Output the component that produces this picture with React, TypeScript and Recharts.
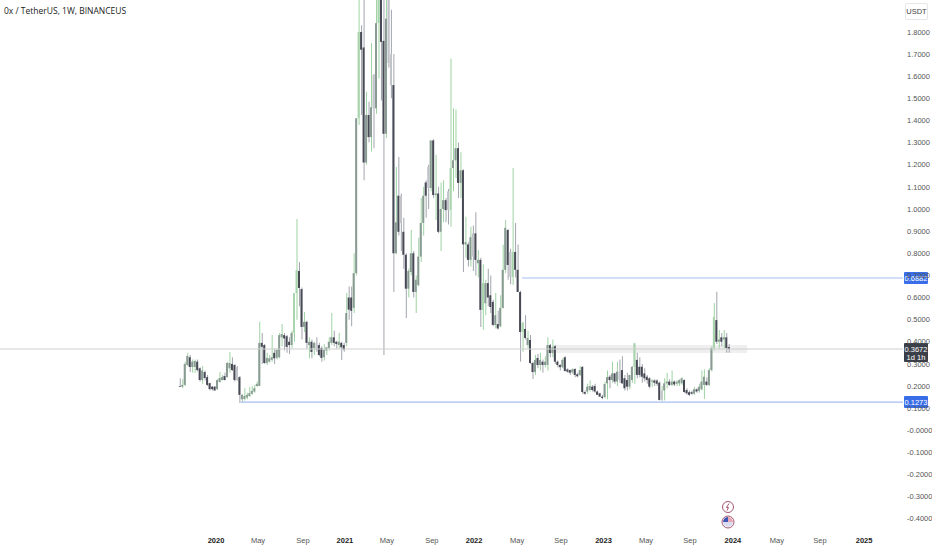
import React from "react";
import {
  Bar,
  BarChart,
  Cell,
  ReferenceArea,
  ReferenceLine,
  XAxis,
  YAxis,
} from "recharts";

// weekly candles, oldest first
const opens = [
  0.2, 0.197, 0.205, 0.295, 0.33, 0.286, 0.286, 0.31, 0.28, 0.227,
  0.263, 0.24, 0.213, 0.197, 0.197, 0.186, 0.218, 0.227, 0.245, 0.24,
  0.28, 0.3, 0.295, 0.286, 0.24, 0.14, 0.141, 0.148, 0.155, 0.165,
  0.175, 0.2, 0.2, 0.395, 0.385, 0.304, 0.31, 0.318, 0.35, 0.327,
  0.33, 0.42, 0.43, 0.425, 0.4, 0.385, 0.44, 0.62, 0.72, 0.638,
  0.467, 0.49, 0.385, 0.4, 0.372, 0.395, 0.385, 0.372, 0.33, 0.36,
  0.372, 0.395, 0.42, 0.4, 0.385, 0.395, 0.385, 0.395, 0.6, 0.6,
  0.553, 0.71, 1.41, 1.8, 1.73, 1.21, 1.425, 1.325, 1.605, 1.455,
  1.84, 1.96, 1.76, 1.34, 1.98, 1.7, 1.56, 0.8, 1.06, 1.06,
  0.897, 0.793, 0.64, 0.715, 0.8, 0.625, 0.656, 0.785, 0.937, 1.12,
  1.19, 1.095, 1.31, 1.063, 1.07, 0.897, 1.0, 1.04, 1.08, 0.995,
  1.185, 1.22, 1.275, 1.118, 1.175, 0.84, 0.84, 0.77, 0.89, 0.89,
  0.755, 0.77, 0.544, 0.574, 0.665, 0.61, 0.58, 0.476, 0.48, 0.47,
  0.553, 0.725, 0.905, 0.806, 0.693, 0.806, 0.725, 0.625, 0.444, 0.458,
  0.385, 0.408, 0.304, 0.263, 0.327, 0.295, 0.31, 0.295, 0.295, 0.385,
  0.349, 0.38, 0.31, 0.295, 0.285, 0.33, 0.275, 0.272, 0.262, 0.277,
  0.253, 0.25, 0.286, 0.173, 0.175, 0.182, 0.197, 0.2, 0.175, 0.167,
  0.152, 0.15, 0.212, 0.242, 0.227, 0.257, 0.22, 0.265, 0.272, 0.235,
  0.227, 0.197, 0.227, 0.287, 0.318, 0.287, 0.287, 0.257, 0.242, 0.235,
  0.22, 0.225, 0.225, 0.215, 0.137, 0.18, 0.212, 0.22, 0.205, 0.22,
  0.21, 0.212, 0.212, 0.227, 0.182, 0.172, 0.172, 0.165, 0.185, 0.178,
  0.185, 0.205, 0.22, 0.205, 0.272, 0.372, 0.498, 0.4, 0.42, 0.41,
  0.42, 0.376,
];
const highs = [
  0.235, 0.23, 0.31, 0.35, 0.34, 0.32, 0.32, 0.32, 0.285, 0.29,
  0.27, 0.25, 0.215, 0.2, 0.2, 0.23, 0.263, 0.25, 0.26, 0.31,
  0.354, 0.33, 0.3, 0.29, 0.245, 0.165, 0.19, 0.17, 0.195, 0.2,
  0.205, 0.22, 0.49, 0.44, 0.39, 0.35, 0.34, 0.43, 0.37, 0.37,
  0.44, 0.48, 0.44, 0.43, 0.42, 0.45, 0.62, 0.955, 0.76, 0.645,
  0.535, 0.495, 0.42, 0.41, 0.4, 0.42, 0.395, 0.38, 0.39, 0.375,
  0.42, 0.53, 0.45, 0.405, 0.44, 0.4, 0.395, 0.62, 0.65, 0.65,
  0.8, 1.41, 2.2, 1.83, 2.1, 1.53, 1.485, 1.75, 1.61, 2.0,
  2.1, 2.1, 2.1, 2.1, 2.1, 1.9, 1.7, 1.19, 1.235, 1.07,
  0.96, 0.8, 0.73, 0.905, 0.81, 0.7, 0.87, 1.05, 1.1, 1.13,
  1.2, 1.31, 1.315, 1.245, 1.1, 1.12, 1.13, 1.05, 1.09, 1.68,
  1.455, 1.45, 1.3, 1.257, 1.18, 0.965, 0.85, 0.92, 0.925, 0.985,
  0.815, 0.78, 0.75, 0.68, 0.73, 0.7, 0.59, 0.62, 0.54, 0.61,
  0.838, 0.95, 0.91, 0.82, 1.185, 0.937, 0.84, 0.63, 0.49, 0.52,
  0.45, 0.43, 0.31, 0.34, 0.345, 0.35, 0.32, 0.335, 0.42, 0.39,
  0.41, 0.385, 0.315, 0.3, 0.325, 0.335, 0.28, 0.275, 0.28, 0.28,
  0.26, 0.29, 0.29, 0.18, 0.21, 0.225, 0.205, 0.21, 0.18, 0.17,
  0.16, 0.22, 0.27, 0.25, 0.31, 0.26, 0.31, 0.32, 0.335, 0.25,
  0.26, 0.25, 0.29, 0.393, 0.35, 0.33, 0.3, 0.28, 0.25, 0.24,
  0.23, 0.23, 0.23, 0.22, 0.2, 0.235, 0.26, 0.23, 0.27, 0.225,
  0.225, 0.23, 0.24, 0.23, 0.19, 0.18, 0.18, 0.195, 0.19, 0.21,
  0.27, 0.275, 0.24, 0.28, 0.38, 0.575, 0.626, 0.453, 0.44, 0.453,
  0.44, 0.39,
];
const lows = [
  0.195, 0.19, 0.2, 0.29, 0.263, 0.26, 0.26, 0.265, 0.22, 0.21,
  0.225, 0.2, 0.18, 0.18, 0.178, 0.182, 0.215, 0.225, 0.225, 0.238,
  0.26, 0.268, 0.22, 0.225, 0.123, 0.125, 0.135, 0.14, 0.15, 0.16,
  0.17, 0.195, 0.2, 0.3, 0.3, 0.295, 0.305, 0.31, 0.3, 0.32,
  0.325, 0.38, 0.36, 0.35, 0.345, 0.37, 0.4, 0.5, 0.56, 0.41,
  0.444, 0.37, 0.325, 0.325, 0.34, 0.355, 0.335, 0.31, 0.315, 0.34,
  0.36, 0.385, 0.38, 0.37, 0.37, 0.318, 0.355, 0.38, 0.5, 0.47,
  0.53, 0.7, 1.38, 1.425, 1.13, 1.2, 1.3, 1.26, 1.275, 1.43,
  1.59, 1.49, 0.34, 1.32, 1.64, 1.5, 0.625, 0.795, 0.88, 0.81,
  0.73, 0.507, 0.6, 0.7, 0.6, 0.53, 0.65, 0.76, 0.88, 0.96,
  1.0, 1.08, 1.05, 0.95, 0.89, 0.81, 0.94, 0.94, 0.93, 0.92,
  1.08, 1.14, 1.05, 1.05, 0.715, 0.78, 0.74, 0.74, 0.72, 0.7,
  0.69, 0.467, 0.454, 0.52, 0.56, 0.53, 0.47, 0.46, 0.455, 0.465,
  0.55, 0.71, 0.68, 0.66, 0.657, 0.69, 0.625, 0.31, 0.355, 0.41,
  0.37, 0.3, 0.232, 0.25, 0.28, 0.27, 0.26, 0.285, 0.27, 0.33,
  0.33, 0.3, 0.285, 0.27, 0.28, 0.265, 0.26, 0.25, 0.255, 0.24,
  0.24, 0.245, 0.165, 0.16, 0.165, 0.175, 0.175, 0.17, 0.16, 0.15,
  0.14, 0.145, 0.14, 0.19, 0.215, 0.21, 0.2, 0.215, 0.21, 0.18,
  0.18, 0.185, 0.215, 0.21, 0.235, 0.24, 0.215, 0.22, 0.21, 0.19,
  0.195, 0.2, 0.2, 0.135, 0.13, 0.135, 0.19, 0.2, 0.2, 0.2,
  0.2, 0.2, 0.205, 0.17, 0.16, 0.155, 0.16, 0.16, 0.17, 0.17,
  0.18, 0.141, 0.2, 0.2, 0.265, 0.36, 0.39, 0.37, 0.38, 0.37,
  0.35, 0.35,
];
const closes = [
  0.197, 0.205, 0.3, 0.336, 0.286, 0.31, 0.313, 0.272, 0.227, 0.27,
  0.236, 0.205, 0.186, 0.186, 0.18, 0.227, 0.236, 0.24, 0.227, 0.304,
  0.304, 0.272, 0.227, 0.227, 0.16, 0.16, 0.155, 0.16, 0.168, 0.178,
  0.19, 0.21, 0.395, 0.377, 0.304, 0.327, 0.325, 0.33, 0.325, 0.363,
  0.43, 0.435, 0.415, 0.377, 0.385, 0.44, 0.62, 0.724, 0.643, 0.467,
  0.49, 0.395, 0.4, 0.354, 0.395, 0.363, 0.34, 0.327, 0.363, 0.375,
  0.4, 0.42, 0.395, 0.39, 0.4, 0.375, 0.365, 0.53, 0.545, 0.54,
  0.71, 1.41, 1.8, 1.72, 1.21, 1.425, 1.325, 1.46, 1.455, 1.84,
  1.96, 1.755, 1.34, 1.86, 1.66, 1.56, 0.8, 0.94, 0.897, 0.937,
  0.793, 0.64, 0.72, 0.8, 0.625, 0.68, 0.785, 0.937, 1.06, 1.06,
  1.095, 1.31, 1.063, 1.07, 0.897, 1.0, 1.04, 0.995, 0.995, 1.185,
  1.22, 1.275, 1.118, 1.175, 0.84, 0.85, 0.77, 0.873, 0.785, 0.77,
  0.77, 0.544, 0.665, 0.665, 0.6, 0.557, 0.476, 0.52, 0.46, 0.553,
  0.725, 0.915, 0.747, 0.693, 0.806, 0.725, 0.625, 0.444, 0.485, 0.417,
  0.417, 0.304, 0.263, 0.318, 0.295, 0.318, 0.295, 0.31, 0.385, 0.349,
  0.375, 0.31, 0.295, 0.285, 0.318, 0.268, 0.265, 0.26, 0.275, 0.25,
  0.244, 0.272, 0.173, 0.165, 0.197, 0.2, 0.182, 0.175, 0.16, 0.152,
  0.146, 0.209, 0.24, 0.227, 0.257, 0.22, 0.265, 0.227, 0.212, 0.19,
  0.197, 0.25, 0.287, 0.393, 0.25, 0.25, 0.242, 0.235, 0.227, 0.197,
  0.225, 0.215, 0.21, 0.137, 0.18, 0.212, 0.22, 0.205, 0.22, 0.207,
  0.22, 0.227, 0.235, 0.173, 0.167, 0.16, 0.165, 0.185, 0.175, 0.197,
  0.22, 0.242, 0.205, 0.272, 0.372, 0.512, 0.4, 0.41, 0.4, 0.42,
  0.372, 0.3672,
];

const priceTicks = [
  1.8, 1.7, 1.6, 1.5, 1.4, 1.3, 1.2, 1.1, 1.0, 0.9, 0.8, 0.7, 0.6, 0.5, 0.4,
  0.3, 0.2, 0.1, 0, -0.1, -0.2, -0.3, -0.4,
];
// candle index each date label sits at
const dateTicks = [14.5, 31.4, 49.5, 66.4, 83.3, 101.4, 118.4, 135.7, 153.4, 170.5, 187.6, 205.3, 222.6, 240.3, 257.6, 275.4];
const dateLabels = ["2020", "May", "Sep", "2021", "May", "Sep", "2022", "May", "Sep", "2023", "May", "Sep", "2024", "May", "Sep", "2025"];

const lastPrice = 0.3672;
const resistance = 0.6882;
const support = 0.1273;

// candles that look washed out in the screenshot
const paleGreenWeeks = [46, 47, 72, 80, 109, 122, 134, 138, 183, 215];
const paleGreyWeeks = [23, 55, 78, 84, 85, 89, 100, 108, 118, 133, 177, 194];

const data = opens.map((open, i) => ({
  week: i,
  wick: [lows[i], highs[i]],
  body: [Math.min(open, closes[i]), Math.max(open, closes[i])],
  up: closes[i] >= open,
}));

const bodyColor = (week: number, up: boolean) => {
  if (paleGreenWeeks.includes(week)) return "#a9d4ad";
  if (paleGreyWeeks.includes(week)) return "#c3c5cb";
  return up ? "#8a9b94" : "#474a55";
};

const xDomain: [number, number] = [-72.46, 291.06];
const yDomain: [number, number] = [-0.4508, 1.9446];

const DateTick = ({ x, y, payload }: any) => {
  const label = dateLabels[dateTicks.indexOf(payload.value)];
  const isYear = /^\d+$/.test(label);
  return (
    <text
      x={x}
      y={y + 5}
      textAnchor="middle"
      fontSize={7.5}
      fontFamily="'Liberation Sans Narrow', 'Liberation Sans', sans-serif"
      fontWeight={isYear ? 700 : 400}
      fill={isYear ? "#222" : "#555"}
    >
      {label}
    </text>
  );
};

const PriceTag = ({ viewBox, text, sub, color }: any) => {
  const tagX = viewBox.x + viewBox.width + 1;
  const tagY = viewBox.y;
  const h = sub ? 19 : 12;
  return (
    <g fontFamily="'Liberation Sans Narrow', 'Liberation Sans', sans-serif" fontSize={7.5} fill="#fff">
      <rect x={tagX} y={tagY - 6} width={24} height={h} fill={color} rx={1} />
      <text x={tagX + 12} y={tagY + 3} textAnchor="middle">{text}</text>
      {sub && <text x={tagX + 12} y={tagY + 11} textAnchor="middle">{sub}</text>}
    </g>
  );
};

export default function App() {
  return (
    <div style={{ position: "absolute", left: 0, top: 0, width: 932, height: 550, background: "#fff" }}>
      <BarChart
        width={932}
        height={550}
        data={data}
        margin={{ top: 0, right: 0, bottom: 0, left: 0 }}
        barGap={0}
      >
        <XAxis
          xAxisId="wicks"
          dataKey="week"
          type="number"
          domain={xDomain}
          allowDataOverflow
          ticks={dateTicks}
          interval={0}
          tick={<DateTick />}
          tickLine={false}
          axisLine={false}
          height={20}
        />
        <XAxis xAxisId="bodies" dataKey="week" type="number" domain={xDomain} allowDataOverflow hide height={0} />
        <YAxis
          orientation="right"
          domain={yDomain}
          allowDataOverflow
          ticks={priceTicks}
          interval={0}
          width={29}
          tickLine={false}
          axisLine={false}
          tickSize={0}
          tickMargin={4}
          tickFormatter={(v: number) => (v === 0 ? "-0.0000" : v.toFixed(4))}
          tick={{
            fontSize: 7.5,
            fill: "#555",
            fontFamily: "'Liberation Sans Narrow', 'Liberation Sans', sans-serif",
            textAnchor: "start",
          }}
        />
        <ReferenceArea
          xAxisId="wicks"
          x1={150.2}
          x2={228.3}
          y1={0.349}
          y2={0.385}
          fill="#e4e4e4"
          fillOpacity={0.6}
          stroke="none"
        />
        <ReferenceLine
          xAxisId="wicks"
          segment={[{ x: 137.7, y: resistance }, { x: xDomain[1], y: resistance }]}
          stroke="#a5bdf3"
        />
        <ReferenceLine
          xAxisId="wicks"
          segment={[{ x: 24.5, y: support }, { x: xDomain[1], y: support }]}
          stroke="#a5bdf3"
          strokeWidth={1.2}
        />
        <ReferenceLine xAxisId="wicks" y={lastPrice} stroke="#cfcfcf" />
        <Bar xAxisId="wicks" dataKey="wick" barSize={1} isAnimationActive={false}>
          {data.map((d) => (
            <Cell key={d.week} fill={d.up ? "#9fd3a3" : "#a2a5ae"} />
          ))}
        </Bar>
        <Bar xAxisId="bodies" dataKey="body" barSize={2} isAnimationActive={false}>
          {data.map((d) => (
            <Cell key={d.week} fill={bodyColor(d.week, d.up)} />
          ))}
        </Bar>
        <ReferenceLine
          xAxisId="wicks"
          y={resistance}
          stroke="none"
          label={{ content: (p: any) => <PriceTag viewBox={p.viewBox} text="0.6882" color="#3a6ee8" /> }}
        />
        <ReferenceLine
          xAxisId="wicks"
          y={support}
          stroke="none"
          label={{ content: (p: any) => <PriceTag viewBox={p.viewBox} text="0.1273" color="#3a6ee8" /> }}
        />
        <ReferenceLine
          xAxisId="wicks"
          y={lastPrice}
          stroke="none"
          label={{ content: (p: any) => <PriceTag viewBox={p.viewBox} text="0.3672" sub="1d 1h" color="#3b3f49" /> }}
        />
      </BarChart>

      <div
        style={{
          position: "absolute",
          left: 4,
          top: 5,
          fontFamily: "'Open Sans', sans-serif",
          fontSize: 8.5,
          lineHeight: "11px",
          color: "#222",
          whiteSpace: "nowrap",
        }}
      >
        0x / TetherUS, 1W, BINANCEUS
      </div>
      <div
        style={{
          position: "absolute",
          left: 905,
          top: 3,
          width: 21,
          height: 15,
          border: "1px solid #e6e6e6",
          borderRadius: 2,
          textAlign: "center",
          fontFamily: "'Liberation Sans Narrow', sans-serif",
          fontSize: 7.5,
          lineHeight: "15px",
          color: "#444",
        }}
      >
        USDT
      </div>
      <svg style={{ position: "absolute", left: 720, top: 499 }} width={16} height={32}>
        <circle cx={8} cy={8} r={5.5} fill="#fff" stroke="#a4566f" />
        <path d="M9 4.5 L6.5 8.5 L8.5 8.5 L7 11.5" fill="none" stroke="#a4566f" />
        <circle cx={8} cy={23} r={6} fill="#fff" stroke="#a4566f" />
        <path d="M3 23 A5 5 0 0 1 8 18 L8 23 Z" fill="#3f56b5" />
        <path d="M8 18 A5 5 0 0 1 13 23 L8 23 Z" fill="#e8a7b4" />
        <path d="M3 23 H13 A5 5 0 0 1 3 23 Z" fill="#d9dcef" />
      </svg>
    </div>
  );
}
